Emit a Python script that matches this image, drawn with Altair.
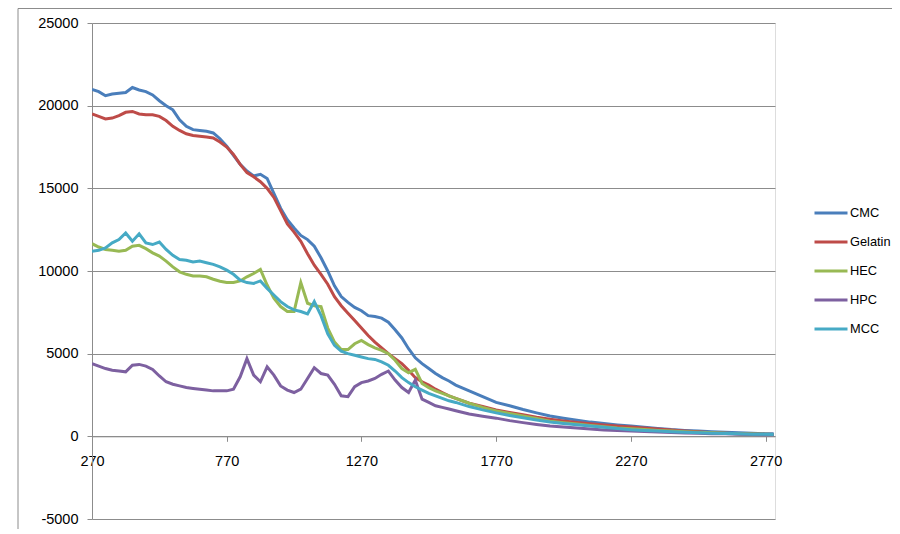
import altair as alt
import pandas as pd

# x positions (wavelength-like axis)
x_vals = list(range(270, 1621, 25)) + list(range(1670, 2771, 50)) + [2800]

series_names = ["CMC", "Gelatin", "HEC", "HPC", "MCC"]
series_colors = ["#4A7EBB", "#BE4B48", "#98B954", "#7D60A0", "#46AAC5"]

cmc = [
    20980, 20850, 20600, 20700, 20750, 20800, 21100, 20950, 20850, 20650,
    20300, 20000, 19750, 19150, 18750, 18550, 18500, 18450, 18350, 18000,
    17550, 17000, 16450, 16050, 15750, 15850, 15600, 14700, 13800, 13100,
    12600, 12150, 11900, 11500, 10800, 10000, 9100, 8450, 8100, 7800,
    7600, 7300, 7250, 7150, 6900, 6450, 5950, 5300, 4750, 4400,
    4100, 3800, 3550, 3350, 3100,
    2750, 2400, 2050, 1850, 1620, 1420, 1230, 1100, 980, 860, 770, 690,
    620, 550, 480, 410, 360, 320, 280, 250, 220, 190, 160,
    150,
]
gelatin = [
    19500, 19350, 19200, 19250, 19400, 19600, 19650, 19500, 19450, 19450,
    19350, 19100, 18750, 18500, 18300, 18200, 18150, 18100, 18050, 17800,
    17500, 17050, 16450, 15950, 15700, 15400, 15000, 14450, 13650, 12850,
    12350, 11800, 11050, 10350, 9800, 9200, 8450, 7900, 7450, 7000,
    6550, 6100, 5700, 5350, 5000, 4700, 4400, 4000, 3550, 3300,
    3100, 2850, 2650, 2450, 2300,
    2000, 1800, 1600, 1450, 1300, 1150, 1030, 930, 840, 760, 690, 620,
    570, 510, 450, 380, 320, 270, 220, 190, 160, 140, 120,
    110,
]
hec = [
    11650, 11450, 11300, 11250, 11200, 11250, 11500, 11550, 11350, 11100,
    10900, 10600, 10250, 9950, 9800, 9700, 9700, 9650, 9500, 9380,
    9300, 9300, 9400, 9650, 9850, 10100, 9150, 8350, 7850, 7550,
    7550, 9300, 8050, 7900, 7850, 6550, 5700, 5250, 5250, 5600,
    5800, 5550, 5350, 5200, 5000, 4600, 4100, 3850, 4050, 3200,
    2950, 2750, 2600, 2450, 2300,
    2000, 1750, 1530, 1380, 1230, 1080, 910, 820, 740, 660, 580, 510,
    460, 410, 360, 320, 280, 240, 210, 180, 160, 140, 120,
    110,
]
hpc = [
    4400, 4250, 4100, 4000, 3950, 3900, 4300, 4350, 4250, 4050,
    3650, 3300, 3150, 3050, 2950, 2900, 2850, 2800, 2750, 2750,
    2750, 2850, 3600, 4700, 3700, 3300, 4200, 3700, 3050, 2800,
    2650, 2850, 3500, 4150, 3800, 3700, 3150, 2450, 2400, 3000,
    3250, 3350, 3500, 3750, 3950, 3400, 2950, 2650, 3400, 2250,
    2050, 1850, 1750, 1650, 1550,
    1350, 1220, 1100, 950, 830, 720, 625, 560, 500, 440, 390, 350,
    320, 290, 260, 230, 200, 180, 160, 150, 130, 110, 100,
    90,
]
mcc = [
    11200, 11250, 11400, 11700, 11900, 12300, 11800, 12250, 11700, 11600,
    11750, 11300, 10950, 10700, 10650, 10550, 10600, 10500, 10400, 10250,
    10050, 9800, 9450, 9300, 9250, 9400, 8950, 8550, 8150, 7850,
    7650, 7550, 7400, 8150, 7300, 6200, 5500, 5150, 5000, 4900,
    4800, 4700, 4650, 4500, 4300, 3950, 3550, 3250, 3000, 2800,
    2600, 2450, 2300, 2150, 2050,
    1800, 1600, 1420, 1260, 1120, 990, 870, 780, 700, 620, 550, 470,
    400, 360, 320, 280, 250, 220, 190, 170, 150, 130, 120,
    110,
]

x_ticks = [270, 770, 1270, 1770, 2270, 2770]
y_ticks = [-5000, 0, 5000, 10000, 15000, 20000, 25000]

all_series = [cmc, gelatin, hec, hpc, mcc]
rows = []
for name, vals in zip(series_names, all_series):
    assert len(vals) == len(x_vals), (name, len(vals), len(x_vals))
    for i, (xv, yv) in enumerate(zip(x_vals, vals)):
        rows.append({"x": xv, "value": yv, "series": name, "order": i})
df = pd.DataFrame(rows)

FONT = "Liberation Sans"
W, H = 683, 496
GRID = "#8c8c8c"

lines = alt.Chart(df).mark_line(strokeWidth=3, clip=True).encode(
    x=alt.X("x:Q",
            scale=alt.Scale(domain=[270, 2805], nice=False, zero=False),
            axis=alt.Axis(values=x_ticks, title=None, grid=False, offset=-82.7,
                          domainColor=GRID, tickColor=GRID, tickSize=5,
                          labelPadding=13, labelFont=FONT, labelFontSize=14.5,
                          labelColor="#000000", labelFlush=False,
                          labelExpr="datum.value + ''")),
    y=alt.Y("value:Q",
            scale=alt.Scale(domain=[-5000, 25000], nice=False),
            axis=alt.Axis(values=y_ticks, title=None, grid=True, gridColor=GRID,
                          domainColor=GRID, tickColor=GRID, tickSize=5,
                          labelPadding=9, labelFont=FONT, labelFontSize=14.5,
                          labelColor="#000000",
                          labelExpr="datum.value + ''")),
    color=alt.Color("series:N",
                    scale=alt.Scale(domain=series_names, range=series_colors),
                    legend=alt.Legend(title=None, orient="none",
                                      legendX=721, legendY=175.5,
                                      symbolType="stroke", symbolSize=1089,
                                      symbolStrokeWidth=3, clipHeight=29,
                                      rowPadding=0, padding=0,
                                      labelOffset=1, labelFont=FONT,
                                      labelFontSize=12.8, labelColor="#000000",
                                      labelLimit=200)),
    order=alt.Order("order:Q"),
)

frame_data = alt.Data(values=[{"k": 1}])
frame_v = alt.Chart(frame_data).mark_rule(color="#8c8c8c", strokeWidth=1).encode(
    x=alt.value(-74), y=alt.value(-14.5), y2=alt.value(520))
frame_h = alt.Chart(frame_data).mark_rule(color="#8c8c8c", strokeWidth=1).encode(
    x=alt.value(-74), x2=alt.value(800), y=alt.value(-14.5))

chart = alt.layer(frame_v, frame_h, lines).properties(
    width=W, height=H,
    autosize=alt.AutoSizeParams(type="none"),
    padding={"left": 84, "top": 15, "right": 117, "bottom": 10},
).configure_view(stroke=None).configure(background="white")

chart.save("out.html", embed_options={"renderer": "svg", "actions": False})
